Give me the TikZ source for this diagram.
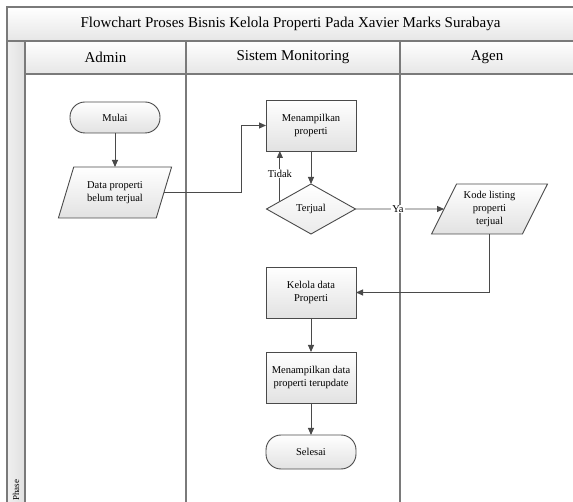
\documentclass[tikz,border=0pt]{standalone}
\usepackage{fontspec}
\setmainfont{Liberation Serif}
\usetikzlibrary{shapes.geometric,arrows.meta,calc}

\definecolor{frameline}{HTML}{7A7A7A}
\definecolor{shapeline}{HTML}{4A4A4A}
\definecolor{headshade}{HTML}{E6E6E6}
\definecolor{boxshade}{HTML}{E2E2E2}

\tikzset{
  frame/.style={draw=frameline, line width=1.4pt},
  base/.style={draw=shapeline, line width=0.9pt, top color=white, bottom color=boxshade,
    font=\fontsize{10.5}{13}\selectfont, align=center, inner sep=0pt, outer sep=0pt},
  procbox/.style={base, rectangle, minimum width=90pt, minimum height=51pt},
  termbox/.style={base, rectangle, rounded corners=15pt, minimum width=90pt},
  databox/.style={base, trapezium, trapezium stretches=true},
  decbox/.style={base, diamond, aspect=1.78, minimum width=89pt, minimum height=50pt,
    top color=white, bottom color=white!92!black},
  flow/.style={draw=shapeline, line width=0.9pt, -{Triangle[length=7pt,width=6pt]}},
  flowlabel/.style={fill=white, inner sep=1pt, font=\fontsize{10.5}{13}\selectfont},
  headtext/.style={font=\fontsize{15}{18}\selectfont},
}

\begin{document}
\begin{tikzpicture}[x=1pt,y=-1pt]
\useasboundingbox (0,0) rectangle (573,502);

% pool background: title row, lane header row, phase column
\shade[top color=white, bottom color=headshade] (7,7) rectangle (574,41);
\shade[top color=white, bottom color=headshade] (25,41) rectangle (574,74);
\shade[left color=white!94!black, right color=white!88!black] (7,41) rectangle (25,502);

% pool lines
\draw[frame] (7,502) -- (7,7) -- (574,7);
\draw[frame] (7,41) -- (574,41);
\draw[frame] (25,74) -- (574,74);
\draw[frame] (25,41) -- (25,502);
\draw[frame] (186,41) -- (186,502);
\draw[frame] (400,41) -- (400,502);

% titles
\node[headtext] (title) at (290.5,24) {Flowchart Proses Bisnis Kelola Properti Pada Xavier Marks Surabaya};
\node[headtext] (laneA) at (105.5,57.5) {Admin};
\node[headtext] (laneS) at (293,57.5) {Sistem Monitoring};
\node[headtext] (laneG) at (487,57.5) {Agen};
\node[rotate=90, anchor=west, inner sep=0pt, font=\fontsize{9}{10}\selectfont] (phase) at (16,501) {Phase};

% flow elements
\node[termbox, minimum height=31pt] (mulai) at (115,117.5) {Mulai};
\node[databox, trapezium left angle=65, trapezium right angle=115,
      minimum width=114pt, minimum height=51pt] (dp) at (115,192.5) {Data properti\\belum terjual};
\node[procbox] (mp) at (311,125.5) {Menampilkan\\properti};
\node[decbox] (tj) at (311,209) {Terjual};
\node[databox, trapezium left angle=61, trapezium right angle=119,
      minimum width=117pt, minimum height=50pt] (kl) at (489.5,209) {Kode listing\\properti\\terjual};
\node[procbox] (kd) at (311,292.5) {Kelola data\\Properti};
\node[procbox] (md) at (311,377.5) {Menampilkan data\\properti terupdate};
\node[termbox, minimum height=34pt] (selesai) at (311,452) {Selesai};

% connectors
\draw[flow] (mulai) -- (dp);
\draw[flow] (dp.east) -- ++(78,0) |- (mp.west);
\draw[flow] (mp) -- (tj);
\coordinate (tdk) at ($(tj.west)!0.3!(tj.north)$);
\draw[flow] (tdk) -- (tdk |- mp.south) node[flowlabel, pos=0.55] {Tidak};
\draw[flow] (tj.east) -- (kl.west) node[flowlabel, pos=0.48] {Ya};
\draw[flow] (kl.south) |- (kd.east);
\draw[flow] (kd) -- (md);
\draw[flow] (md) -- (selesai);
\end{tikzpicture}
\end{document}
